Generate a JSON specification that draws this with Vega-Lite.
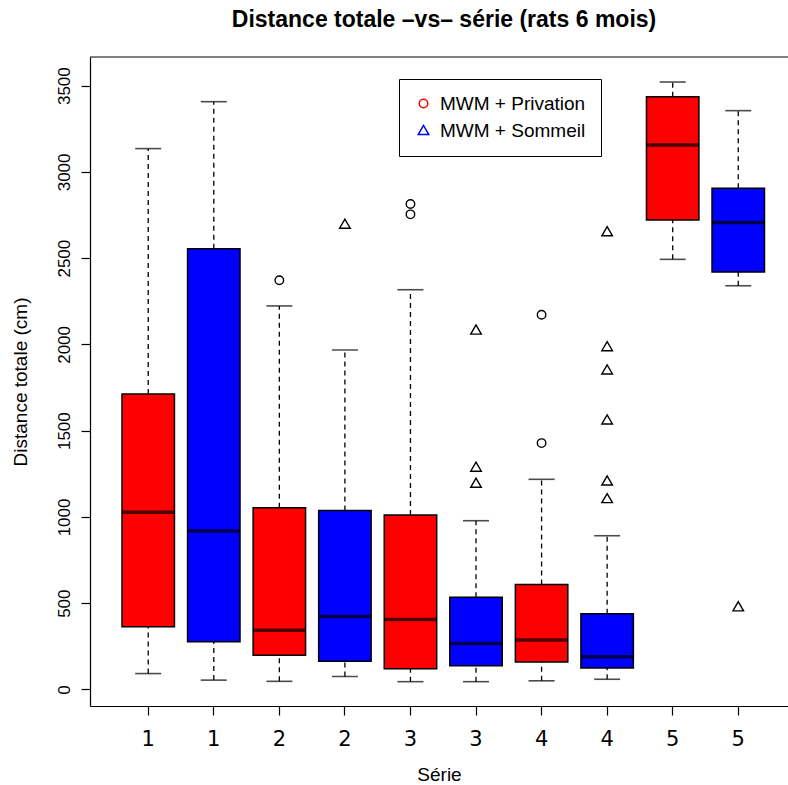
{
  "$schema": "https://vega.github.io/schema/vega-lite/v6.json",
  "width": 698,
  "height": 649,
  "autosize": {"type": "none"},
  "padding": {"left": 90, "top": 57, "right": 0, "bottom": 79},
  "background": "white",
  "title": {
    "text": "Distance totale –vs– série (rats 6 mois)",
    "font": "Liberation Sans",
    "fontSize": 23,
    "fontWeight": "bold",
    "color": "black",
    "anchor": "middle",
    "dx": 5,
    "offset": 24
  },
  "config": {
    "view": {"stroke": null},
    "axis": {
      "grid": false,
      "domainColor": "black",
      "domainWidth": 1.2,
      "tickColor": "black",
      "tickWidth": 1.2,
      "tickSize": 9,
      "labelColor": "black",
      "titleColor": "black",
      "titleFont": "Liberation Sans",
      "titleFontWeight": "normal",
      "titleFontSize": 19
    }
  },
  "datasets": {
    "boxes": [
      {"groupe": "1 P", "serie": 1, "condition": "MWM + Privation", "lower": 92, "q1": 364, "median": 1027, "q3": 1712, "upper": 3135},
      {"groupe": "1 S", "serie": 1, "condition": "MWM + Sommeil", "lower": 54, "q1": 277, "median": 918, "q3": 2555, "upper": 3407},
      {"groupe": "2 P", "serie": 2, "condition": "MWM + Privation", "lower": 47, "q1": 198, "median": 343, "q3": 1053, "upper": 2223},
      {"groupe": "2 S", "serie": 2, "condition": "MWM + Sommeil", "lower": 75, "q1": 163, "median": 423, "q3": 1037, "upper": 1968},
      {"groupe": "3 P", "serie": 3, "condition": "MWM + Privation", "lower": 45, "q1": 120, "median": 406, "q3": 1011, "upper": 2317},
      {"groupe": "3 S", "serie": 3, "condition": "MWM + Sommeil", "lower": 45, "q1": 137, "median": 267, "q3": 534, "upper": 978},
      {"groupe": "4 P", "serie": 4, "condition": "MWM + Privation", "lower": 50, "q1": 159, "median": 286, "q3": 609, "upper": 1218},
      {"groupe": "4 S", "serie": 4, "condition": "MWM + Sommeil", "lower": 59, "q1": 124, "median": 190, "q3": 439, "upper": 891},
      {"groupe": "5 P", "serie": 5, "condition": "MWM + Privation", "lower": 2493, "q1": 2721, "median": 3156, "q3": 3436, "upper": 3521},
      {"groupe": "5 S", "serie": 5, "condition": "MWM + Sommeil", "lower": 2340, "q1": 2420, "median": 2706, "q3": 2905, "upper": 3355}
    ],
    "outliers": [
      {"groupe": "2 P", "condition": "MWM + Privation", "distance": 2372},
      {"groupe": "2 S", "condition": "MWM + Sommeil", "distance": 2697},
      {"groupe": "3 P", "condition": "MWM + Privation", "distance": 2814},
      {"groupe": "3 P", "condition": "MWM + Privation", "distance": 2754},
      {"groupe": "3 S", "condition": "MWM + Sommeil", "distance": 2083},
      {"groupe": "3 S", "condition": "MWM + Sommeil", "distance": 1288},
      {"groupe": "3 S", "condition": "MWM + Sommeil", "distance": 1195},
      {"groupe": "4 P", "condition": "MWM + Privation", "distance": 2172},
      {"groupe": "4 P", "condition": "MWM + Privation", "distance": 1428},
      {"groupe": "4 S", "condition": "MWM + Sommeil", "distance": 2653},
      {"groupe": "4 S", "condition": "MWM + Sommeil", "distance": 1987},
      {"groupe": "4 S", "condition": "MWM + Sommeil", "distance": 1852},
      {"groupe": "4 S", "condition": "MWM + Sommeil", "distance": 1562},
      {"groupe": "4 S", "condition": "MWM + Sommeil", "distance": 1208},
      {"groupe": "4 S", "condition": "MWM + Sommeil", "distance": 1106},
      {"groupe": "5 S", "condition": "MWM + Sommeil", "distance": 479}
    ]
  },
  "layer": [
    {
      "data": {"name": "boxes"},
      "mark": {"type": "rule", "color": "black", "strokeWidth": 1.3, "strokeDash": [5, 4]},
      "encoding": {
        "x": {
          "field": "groupe",
          "type": "ordinal",
          "scale": {
            "type": "band",
            "domain": ["1 P", "1 S", "2 P", "2 S", "3 P", "3 S", "4 P", "4 S", "5 P", "5 S"],
            "paddingInner": 0,
            "paddingOuter": 0.3235,
            "align": 0.6
          },
          "axis": {
            "title": "Série",
            "labelExpr": "split(datum.label, ' ')[0]",
            "labelAngle": 0,
            "labelFont": "DejaVu Sans",
            "labelFontSize": 21,
            "labelPadding": 13,
            "titlePadding": 16
          }
        },
        "y": {
          "field": "q3",
          "type": "quantitative",
          "scale": {"domain": [-96, 3666], "nice": false, "zero": false},
          "axis": {
            "title": "Distance totale (cm)",
            "values": [0, 500, 1000, 1500, 2000, 2500, 3000, 3500],
            "format": "d",
            "labelAngle": -90,
            "labelAlign": "center",
            "labelBaseline": "alphabetic",
            "labelFont": "Liberation Sans",
            "labelFontSize": 17,
            "labelPadding": 12,
            "titlePadding": 25
          }
        },
        "y2": {"field": "upper"}
      }
    },
    {
      "data": {"name": "boxes"},
      "mark": {"type": "rule", "color": "black", "strokeWidth": 1.3, "strokeDash": [5, 4]},
      "encoding": {
        "x": {"field": "groupe", "type": "ordinal"},
        "y": {"field": "lower", "type": "quantitative"},
        "y2": {"field": "q1"}
      }
    },
    {
      "data": {"name": "boxes"},
      "mark": {"type": "tick", "color": "black", "size": 26, "thickness": 1.6, "orient": "horizontal"},
      "encoding": {
        "x": {"field": "groupe", "type": "ordinal"},
        "y": {"field": "upper", "type": "quantitative"}
      }
    },
    {
      "data": {"name": "boxes"},
      "mark": {"type": "tick", "color": "black", "size": 26, "thickness": 1.6, "orient": "horizontal"},
      "encoding": {
        "x": {"field": "groupe", "type": "ordinal"},
        "y": {"field": "lower", "type": "quantitative"}
      }
    },
    {
      "data": {"name": "boxes"},
      "transform": [{"filter": "datum.condition === 'MWM + Privation'"}],
      "mark": {"type": "bar", "width": {"band": 0.8}, "fill": "#ff0000", "stroke": "black", "strokeWidth": 1.5},
      "encoding": {
        "x": {"field": "groupe", "type": "ordinal"},
        "y": {"field": "q3", "type": "quantitative"},
        "y2": {"field": "q1"}
      }
    },
    {
      "data": {"name": "boxes"},
      "transform": [{"filter": "datum.condition === 'MWM + Sommeil'"}],
      "mark": {"type": "bar", "width": {"band": 0.8}, "fill": "#0000ff", "stroke": "black", "strokeWidth": 1.5},
      "encoding": {
        "x": {"field": "groupe", "type": "ordinal"},
        "y": {"field": "q3", "type": "quantitative"},
        "y2": {"field": "q1"}
      }
    },
    {
      "data": {"name": "boxes"},
      "mark": {"type": "tick", "color": "black", "size": 52, "thickness": 3.5, "orient": "horizontal"},
      "encoding": {
        "x": {"field": "groupe", "type": "ordinal"},
        "y": {"field": "median", "type": "quantitative"}
      }
    },
    {
      "data": {"name": "outliers"},
      "transform": [{"filter": "datum.condition === 'MWM + Privation'"}],
      "mark": {"type": "point", "shape": "circle", "filled": false, "color": "black", "strokeWidth": 1.4, "size": 72, "opacity": 1},
      "encoding": {
        "x": {"field": "groupe", "type": "ordinal"},
        "y": {"field": "distance", "type": "quantitative"}
      }
    },
    {
      "data": {"name": "outliers"},
      "transform": [{"filter": "datum.condition === 'MWM + Sommeil'"}],
      "mark": {"type": "point", "shape": "M-1.25,0.95L1.25,0.95L0,-1.2Z", "filled": false, "color": "black", "strokeWidth": 1.4, "size": 72, "opacity": 1},
      "encoding": {
        "x": {"field": "groupe", "type": "ordinal"},
        "y": {"field": "distance", "type": "quantitative"}
      }
    },
    {
      "data": {"name": "outliers"},
      "transform": [{"filter": "datum.distance < 0"}],
      "mark": {"type": "point", "filled": false, "strokeWidth": 1.5, "size": 72, "opacity": 1},
      "encoding": {
        "x": {"field": "groupe", "type": "ordinal"},
        "y": {"field": "distance", "type": "quantitative"},
        "stroke": {
          "field": "condition",
          "type": "nominal",
          "scale": {"domain": ["MWM + Privation", "MWM + Sommeil"], "range": ["#ff0000", "#0000ff"]},
          "legend": {
            "orient": "none",
            "legendX": 309,
            "legendY": 22,
            "title": null,
            "strokeColor": "black",
            "fillColor": "white",
            "padding": 15,
            "labelFont": "Liberation Sans",
            "labelFontSize": 19,
            "labelColor": "black",
            "labelOffset": 7,
            "rowPadding": 7,
            "symbolSize": 72,
            "symbolStrokeWidth": 1.5
          }
        },
        "shape": {
          "field": "condition",
          "type": "nominal",
          "scale": {"domain": ["MWM + Privation", "MWM + Sommeil"], "range": ["circle", "M-1.25,0.95L1.25,0.95L0,-1.2Z"]},
          "legend": {
            "orient": "none",
            "legendX": 309,
            "legendY": 22,
            "title": null,
            "strokeColor": "black",
            "fillColor": "white",
            "padding": 15,
            "labelFont": "Liberation Sans",
            "labelFontSize": 19,
            "labelColor": "black",
            "labelOffset": 7,
            "rowPadding": 7,
            "symbolSize": 72,
            "symbolStrokeWidth": 1.5
          }
        }
      }
    },
    {
      "data": {"values": [{}]},
      "mark": {"type": "rule", "color": "black", "strokeWidth": 1.2},
      "encoding": {
        "y": {"datum": 3666}
      }
    }
  ]
}
